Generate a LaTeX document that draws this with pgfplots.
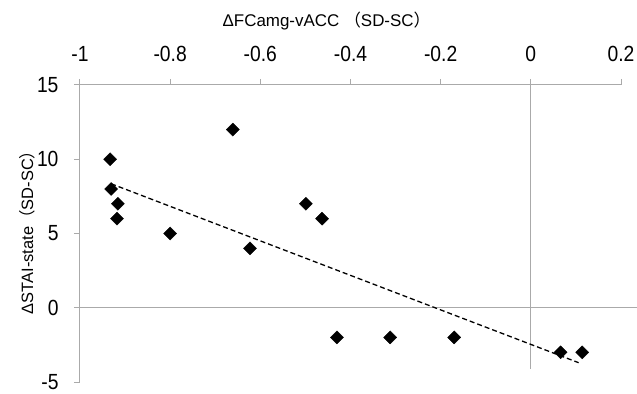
\documentclass[border=0pt]{standalone}
\usepackage{pgfplots}
\pgfplotsset{compat=1.18}
\usepackage{fontspec}
\setmainfont{Liberation Sans}
\newfontfamily\tickfont[FakeStretch=0.88]{Liberation Sans}
\newfontfamily\cjk{Noto Sans CJK JP}
\definecolor{axgray}{RGB}{170,170,170}
\begin{document}
\begin{tikzpicture}
\begin{axis}[
  scale only axis, width=541bp, height=297bp,
  xmin=-1, xmax=0.2, ymin=-5, ymax=15,
  axis x line*=top, axis y line*=left,
  xtick={-1,-0.8,-0.6,-0.4,-0.2,0,0.2},
  ytick={-5,0,5,10,15},
  tick align=outside, major tick length=6bp,
  axis line style={-, axgray, line width=1bp},
  tick style={axgray, line width=1bp},
  ticklabel style={font=\tickfont\fontsize{22}{22}\selectfont, text=black},
  xticklabel style={yshift=14bp},
  yticklabel style={xshift=-12bp},
  /pgf/number format/assume math mode=true,
  clip=false,
]
\draw[axgray, line width=1bp] (axis cs:-1,0) -- (axis cs:0.235,0);
\draw[axgray, line width=1bp] (axis cs:0,15) -- (axis cs:0,-4.1);
\addplot[black, line width=1.3bp, dash pattern=on 5bp off 3bp] coordinates {(-0.931,8.35) (0.106,-3.7)};
\addplot[only marks, mark=square*, mark size=4.6bp, mark options={rotate=45, fill=black, draw=black}] coordinates {
(-0.933,10) (-0.931,8) (-0.916,7) (-0.918,6) (-0.800,5) (-0.661,12) (-0.623,4)
(-0.499,7) (-0.463,6) (-0.430,-2) (-0.312,-2) (-0.170,-2) (0.066,-3) (0.114,-3)};
\node[anchor=base, inner sep=0pt, font=\fontsize{17}{17}\selectfont] at (axis cs:-0.453,18.97) {ΔFCamg-vACC {\cjk （}SD-SC{\cjk ）}};
\node[anchor=base, inner sep=0pt, rotate=90, font=\fontsize{16.5}{16.5}\selectfont] at (axis cs:-1.104,5.35) {ΔSTAI-state{\cjk （}SD-SC{\cjk ）}};
\end{axis}
\pgfresetboundingbox
\path[use as bounding box] ([shift={(-80bp,-12bp)}]current axis.south west) rectangle ([shift={(16bp,85bp)}]current axis.north east);
\end{tikzpicture}
\end{document}
